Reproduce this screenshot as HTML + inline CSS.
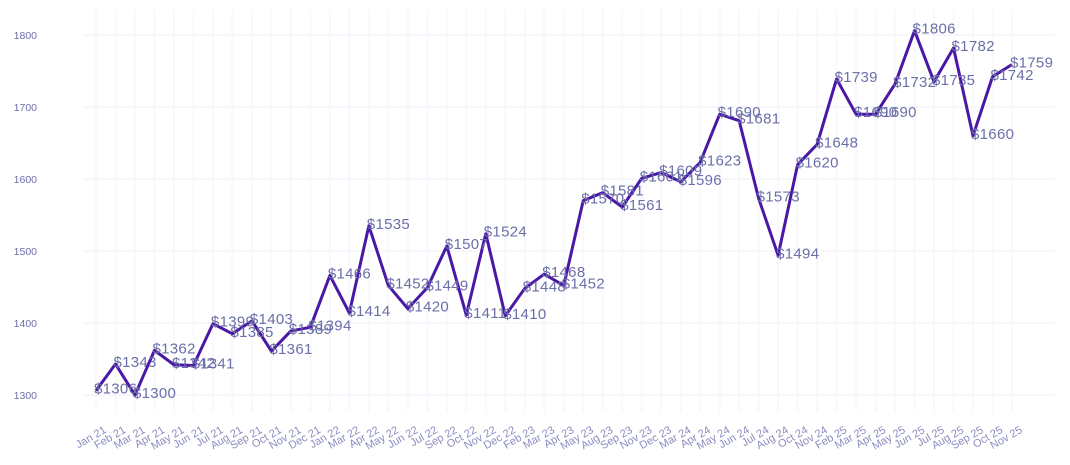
<!DOCTYPE html>
<html><head><meta charset="utf-8"><style>body{margin:0;background:#fff}svg{display:block}</style></head>
<body>
<svg id="s" width="1070" height="465" xmlns="http://www.w3.org/2000/svg" font-family="Liberation Sans, sans-serif"></svg>
<script>
const cats=["Jan 21","Feb 21","Mar 21","Apr 21","May 21","Jun 21","Jul 21","Aug 21","Sep 21","Oct 21","Nov 21","Dec 21","Jan 22","Mar 22","Apr 22","May 22","Jun 22","Jul 22","Sep 22","Oct 22","Nov 22","Dec 22","Feb 23","Mar 23","Apr 23","May 23","Aug 23","Sep 23","Nov 23","Dec 23","Mar 24","Apr 24","May 24","Jun 24","Jul 24","Aug 24","Oct 24","Nov 24","Feb 25","Mar 25","Apr 25","May 25","Jun 25","Jul 25","Aug 25","Sep 25","Oct 25","Nov 25"];
const v=[1306,1343,1300,1362,1342,1341,1399,1385,1403,1361,1389,1394,1466,1414,1535,1452,1420,1449,1507,1411,1524,1410,1448,1468,1452,1570,1581,1561,1601,1609,1596,1623,1690,1681,1573,1494,1620,1648,1739,1690,1690,1732,1806,1735,1782,1660,1742,1759];
const X=i=>96+i*916/47, Y=x=>395-(x-1300)*0.72;
let h='';
for(let i=0;i<48;i++)h+=`<line x1="${X(i)}" y1="10" x2="${X(i)}" y2="412" stroke="#f8f8fd" stroke-width="2"/>`;
for(let t=1300;t<=1800;t+=100){h+=`<line x1="83" y1="${Y(t)}" x2="1055" y2="${Y(t)}" stroke="#f6f6fc" stroke-width="2"/><text x="37" y="${Y(t)+4}" font-size="10.5" fill="#6b6fa8" text-anchor="end">${t}</text>`;}
h+=`<polyline fill="none" stroke="#4a17a6" stroke-width="3" stroke-linejoin="round" points="${v.map((x,i)=>X(i)+','+Y(x)).join(' ')}"/>`;
for(let i=0;i<48;i++){h+=`<text x="${X(i)-2}" y="${Y(v[i])+3}" font-size="15" letter-spacing="0.3" fill="#6b6fa8">$${v[i]}</text>`;
h+=`<text transform="translate(${X(i)+11},${432}) rotate(-30)" font-size="11" fill="#8a8cc0" text-anchor="end">${cats[i]}</text>`;}
document.getElementById('s').innerHTML=h;
</script>
</body></html>
